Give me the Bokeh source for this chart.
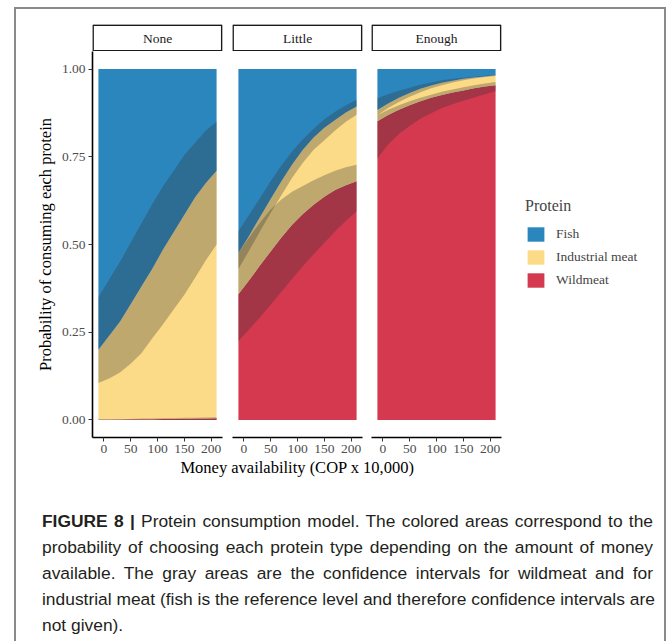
from jinja2 import Template
from bokeh.plotting import figure
from bokeh.models import Range1d, FixedTicker, NumeralTickFormatter, Legend, LegendItem, Div
from bokeh.layouts import row, column
from bokeh.core.properties import value
from bokeh.embed import file_html
from bokeh.resources import INLINE

# ---------------- data ----------------
money = [-10, 10, 30, 50, 70, 90, 110, 130, 150, 170, 190, 210]
x_ticks = [0, 50, 100, 150, 200]
y_ticks = [0, 0.25, 0.5, 0.75, 1.0]
panels = ["None", "Little", "Enough"]
proteins = ["Fish", "Industrial meat", "Wildmeat"]

# wildmeat probability (lower stack) and its confidence interval
none_wild_mid = [0.001, 0.001, 0.001, 0.002, 0.002, 0.002, 0.003, 0.003, 0.003, 0.004, 0.004, 0.005]
none_wild_lo = [0.0, 0.0, 0.0, 0.0, 0.0, 0.0, 0.0, 0.0, 0.0, 0.0, 0.0, 0.0]
none_wild_hi = [0.002, 0.002, 0.003, 0.003, 0.004, 0.004, 0.005, 0.005, 0.006, 0.006, 0.007, 0.008]
# wildmeat + industrial meat (cumulative) and its confidence interval
none_cum_mid = [0.20, 0.24, 0.28, 0.33, 0.38, 0.43, 0.485, 0.535, 0.585, 0.635, 0.675, 0.71]
none_cum_lo = [0.105, 0.118, 0.135, 0.16, 0.19, 0.232, 0.272, 0.315, 0.357, 0.405, 0.455, 0.50]
none_cum_hi = [0.35, 0.40, 0.45, 0.505, 0.56, 0.615, 0.665, 0.71, 0.755, 0.79, 0.825, 0.85]

little_wild_mid = [0.358, 0.398, 0.44, 0.48, 0.52, 0.556, 0.587, 0.613, 0.636, 0.655, 0.669, 0.68]
little_wild_lo = [0.225, 0.258, 0.292, 0.328, 0.365, 0.402, 0.438, 0.472, 0.505, 0.537, 0.567, 0.595]
little_wild_hi = [0.476, 0.52, 0.562, 0.60, 0.628, 0.65, 0.667, 0.683, 0.697, 0.71, 0.72, 0.727]
little_cum_mid = [0.476, 0.525, 0.578, 0.63, 0.68, 0.728, 0.77, 0.805, 0.833, 0.855, 0.876, 0.893]
little_cum_lo = [0.43, 0.483, 0.537, 0.59, 0.64, 0.69, 0.733, 0.77, 0.797, 0.825, 0.85, 0.87]
little_cum_hi = [0.538, 0.585, 0.632, 0.68, 0.725, 0.765, 0.80, 0.83, 0.857, 0.878, 0.897, 0.912]

enough_wild_mid = [0.851, 0.869, 0.884, 0.897, 0.908, 0.918, 0.926, 0.933, 0.939, 0.945, 0.95, 0.954]
enough_wild_lo = [0.745, 0.785, 0.815, 0.838, 0.858, 0.874, 0.889, 0.90, 0.91, 0.919, 0.928, 0.937]
enough_wild_hi = [0.868, 0.884, 0.897, 0.908, 0.918, 0.927, 0.935, 0.942, 0.948, 0.954, 0.959, 0.963]
enough_cum_mid = [0.883, 0.902, 0.918, 0.932, 0.944, 0.953, 0.961, 0.967, 0.972, 0.976, 0.979, 0.982]
enough_cum_lo = [0.868, 0.889, 0.906, 0.921, 0.934, 0.945, 0.954, 0.962, 0.968, 0.973, 0.977, 0.980]
enough_cum_hi = [0.917, 0.928, 0.938, 0.947, 0.955, 0.962, 0.968, 0.972, 0.975, 0.978, 0.981, 0.984]

caption_lines = [
    "Protein consumption model. The colored areas correspond to the",
    "probability of choosing each protein type depending on the amount of money",
    "available. The gray areas are the confidence intervals for wildmeat and for",
    "industrial meat (fish is the reference level and therefore confidence intervals are",
    "not given).",
]

# ---------------- styling ----------------
FISH, INDUS, WILD = "#2C86BE", "#FCDB88", "#D5394F"
CI_COLOR, CI_ALPHA = "#333333", 0.3
SERIF = "Liberation Serif"
TICK_COL = "#4D4D4D"

panel_data = {
    "None": (none_wild_lo, none_wild_mid, none_wild_hi, none_cum_lo, none_cum_mid, none_cum_hi),
    "Little": (little_wild_lo, little_wild_mid, little_wild_hi, little_cum_lo, little_cum_mid, little_cum_hi),
    "Enough": (enough_wild_lo, enough_wild_mid, enough_wild_hi, enough_cum_lo, enough_cum_mid, enough_cum_hi),
}

FRAME_W = 130
left_borders = [76, 7, 6]
right_borders = [3, 3, 3]
LEGEND_W = 160

STRIP_FIG_H = 42
STRIP_TOP_BORDER = 15
FIG_H = 406
FRAME_H = 386
MB_BOT = FIG_H - FRAME_H


def clean(p):
    p.outline_line_color = None
    p.xgrid.visible = False
    p.ygrid.visible = False
    p.background_fill_color = "white"
    p.border_fill_color = "white"


strips = []
figs = []
for i, name in enumerate(panels):
    w = left_borders[i] + FRAME_W + right_borders[i]
    # ---- facet strip ----
    s = figure(width=w, height=STRIP_FIG_H, output_backend="svg", toolbar_location=None,
               x_range=Range1d(-21, 221), y_range=Range1d(0, 1),
               min_border_left=left_borders[i], min_border_right=right_borders[i],
               min_border_top=STRIP_TOP_BORDER, min_border_bottom=0)
    clean(s)
    s.axis.visible = False
    s.quad(left=-20.0, right=219.7, bottom=0.02, top=0.98,
           fill_color="white", line_color="#1a1a1a", line_width=1.7)
    s.text(x=[100], y=[0.5], text=[name],
           text_font=value(SERIF), text_font_size="13.5px", text_align="center",
           text_baseline="middle", text_color="#1a1a1a")
    strips.append(s)

    # ---- panel ----
    wl, wm, wh, cl, cm, ch = panel_data[name]
    p = figure(width=w, height=FIG_H, output_backend="svg", toolbar_location=None,
               x_range=Range1d(-21, 221), y_range=Range1d(-0.05, 1.05),
               min_border_left=left_borders[i], min_border_right=right_borders[i],
               min_border_top=0, min_border_bottom=MB_BOT)
    clean(p)

    ones = [1.0] * len(money)
    zeros = [0.0] * len(money)
    p.varea(x=money, y1=zeros, y2=wm, fill_color=WILD)
    p.varea(x=money, y1=wm, y2=cm, fill_color=INDUS)
    p.varea(x=money, y1=cm, y2=ones, fill_color=FISH)
    p.varea(x=money, y1=wl, y2=wh, fill_color=CI_COLOR, fill_alpha=CI_ALPHA)
    p.varea(x=money, y1=cl, y2=ch, fill_color=CI_COLOR, fill_alpha=CI_ALPHA)

    xa = p.xaxis[0]
    xa.ticker = FixedTicker(ticks=x_ticks)
    xa.axis_line_width = 1.6
    xa.axis_line_color = "black"
    xa.major_tick_line_color = "#333333"
    xa.major_tick_in = 0
    xa.major_tick_out = 4
    xa.minor_tick_line_color = None
    xa.major_label_text_font = SERIF
    xa.major_label_text_font_size = "13.5px"
    xa.major_label_text_color = TICK_COL
    xa.major_label_standoff = 3

    ya = p.yaxis[0]
    if i == 0:
        ya.ticker = FixedTicker(ticks=y_ticks)
        ya.formatter = NumeralTickFormatter(format="0.00")
        ya.axis_line_width = 1.6
        ya.axis_line_color = "black"
        ya.major_tick_line_color = "#333333"
        ya.major_tick_in = 0
        ya.major_tick_out = 4
        ya.minor_tick_line_color = None
        ya.major_label_text_font = SERIF
        ya.major_label_text_font_size = "13.5px"
        ya.major_label_text_color = TICK_COL
        ya.major_label_standoff = 3
        ya.axis_label = "Probability of consuming each protein"
        ya.axis_label_text_font = SERIF
        ya.axis_label_text_font_size = "16.5px"
        ya.axis_label_text_font_style = "normal"
        ya.axis_label_text_color = "black"
        ya.axis_label_standoff = 4
    else:
        ya.visible = False
    figs.append(p)

# legend figure (key glyphs only; degenerate one-point areas draw nothing)
lf = figure(width=LEGEND_W, height=FIG_H, output_backend="svg", toolbar_location=None,
            x_range=Range1d(0, 1), y_range=Range1d(0, 1),
            min_border_left=0, min_border_right=0, min_border_top=0, min_border_bottom=0)
clean(lf)
lf.axis.visible = False
items = []
for name, col in zip(proteins, [FISH, INDUS, WILD]):
    r = lf.varea(x=[0], y1=[0], y2=[0], fill_color=col)
    items.append(LegendItem(label=name, renderers=[r]))
leg = Legend(items=items, location=(21, 148), title="Protein",
             title_text_font=SERIF, title_text_font_size="16px", title_text_font_style="normal",
             title_standoff=10,
             label_text_font=SERIF, label_text_font_size="13.5px",
             glyph_width=21, glyph_height=18, label_height=18, spacing=5,
             label_standoff=10, padding=0, margin=0,
             border_line_color=None, background_fill_alpha=0)
lf.add_layout(leg)

# x-axis title
tf = figure(width=648, height=22, output_backend="svg", toolbar_location=None,
            x_range=Range1d(0, 648), y_range=Range1d(22, 0),
            min_border_left=0, min_border_right=0, min_border_top=0, min_border_bottom=0)
clean(tf)
tf.axis.visible = False
tf.text(x=[281], y=[10], text=["Money availability (COP x 10,000)"],
        text_font=value(SERIF), text_font_size="16.5px", text_align="center",
        text_baseline="middle", text_color="black")

just = "width:611px;text-align:justify;text-align-last:justify;"
html_lines = []
for k, line in enumerate(caption_lines):
    body = ("<b>FIGURE 8 |</b> " + line) if k == 0 else line
    style = just if k < len(caption_lines) - 1 else "width:611px;"
    html_lines.append('<div style="%s">%s</div>' % (style, body))
caption = Div(
    text="".join(html_lines),
    width=648, height=172,
    styles={"font-family": "'Liberation Sans', Arial, sans-serif", "font-size": "17.4px",
            "line-height": "26px", "color": "#231F20", "white-space": "nowrap",
            "padding-left": "21px", "padding-top": "24px", "box-sizing": "border-box"})

layout = column(row(*strips), row(*figs, lf), tf, caption)

TEMPLATE = Template("""{% extends base %}
{% block postamble %}
<style>
  .figframe { position: absolute; left: 14px; top: 7px; width: 648px; height: 690px;
              border: 2px solid #8a8a8a; background: white; overflow: hidden; }
</style>
{% endblock %}
{% block contents %}
<div class="figframe">
{{ super() }}
</div>
{% endblock %}
""")

with open("out.html", "w") as f:
    f.write(file_html(layout, INLINE, template=TEMPLATE))
